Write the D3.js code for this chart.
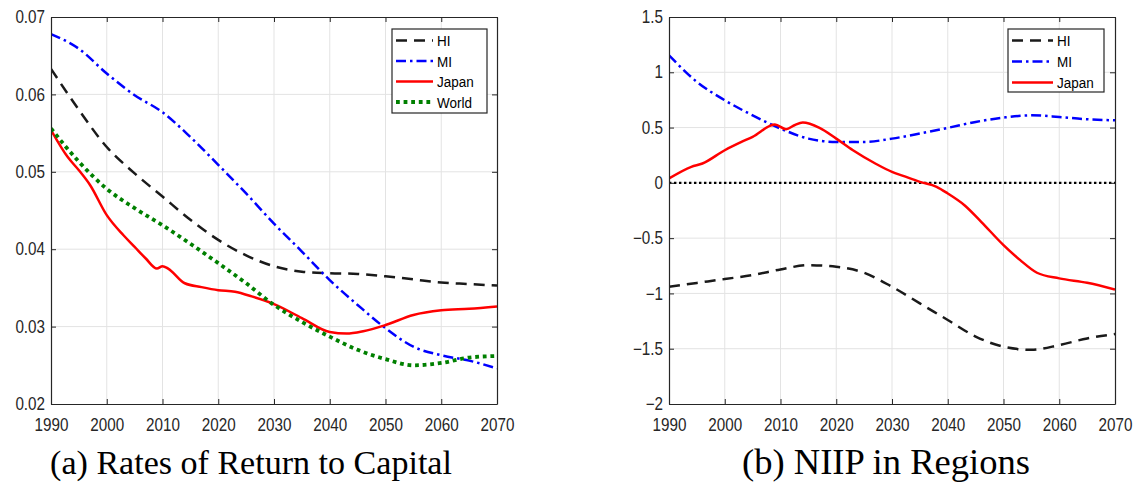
<!DOCTYPE html>
<html>
<head>
<meta charset="utf-8">
<script src="https://cdn.jsdelivr.net/npm/d3@7/dist/d3.min.js"></script>
<style>
  html, body { margin: 0; padding: 0; background: #fff; }
  svg { display: block; }
  .tick-label { font-family: 'Liberation Sans', Arial, sans-serif; font-size: 17.5px; fill: #262626; }
  .legend-label { font-family: 'Liberation Sans', Arial, sans-serif; font-size: 15.5px; fill: #000; }
  .caption { font-family: 'Liberation Serif', 'DejaVu Serif', serif; fill: #000; }
</style>
</head>
<body>
<svg id="chart" width="1143" height="483"></svg>
<script>
// ---- Shared time grid (every five years) ----
const yearGrid = [1990, 1995, 2000, 2005, 2010, 2015, 2020, 2025, 2030, 2035, 2040, 2045, 2050, 2055, 2060, 2065, 2070];
const xTickValues = [1990, 2000, 2010, 2020, 2030, 2040, 2050, 2060, 2070];

// ---- Panel (a): rates of return to capital ----
const rorHI = [0.0633, 0.0580, 0.0532, 0.0498, 0.0468, 0.0438, 0.0412, 0.0392, 0.0378, 0.0371, 0.0369, 0.0368, 0.0365, 0.0361, 0.0357, 0.0355, 0.0353];
const rorMI = [0.0678, 0.0659, 0.0627, 0.0599, 0.0577, 0.0545, 0.0509, 0.0472, 0.0433, 0.0397, 0.0360, 0.0328, 0.0298, 0.0274, 0.0263, 0.0256, 0.0246];
const rorWorld = [0.0556, 0.0513, 0.0478, 0.0453, 0.0431, 0.0407, 0.0382, 0.0356, 0.0328, 0.0306, 0.0287, 0.0270, 0.0258, 0.0250, 0.0253, 0.0260, 0.0262];
const rorJapanYears = [1990, 1993, 1995, 1997, 2000, 2003, 2005, 2007, 2009, 2010, 2011, 2014, 2017, 2020, 2023, 2026, 2030, 2035, 2040, 2043, 2046, 2050, 2055, 2060, 2065, 2070];
const rorJapan = [0.0554, 0.0519, 0.0502, 0.0483, 0.0444, 0.0418, 0.0403, 0.0388, 0.0375, 0.0378, 0.0375, 0.0356, 0.0351, 0.0347, 0.0345, 0.0339, 0.0329, 0.0311, 0.0293, 0.0291, 0.0294, 0.0302, 0.0315, 0.0321, 0.0323, 0.0326];
const rorYTicks = [0.02, 0.03, 0.04, 0.05, 0.06, 0.07];
const rorYTickLabels = ["0.02", "0.03", "0.04", "0.05", "0.06", "0.07"];

// ---- Panel (b): net international investment position ----
const niipHI = [-0.94, -0.905, -0.870, -0.834, -0.783, -0.744, -0.759, -0.813, -0.94, -1.09, -1.24, -1.39, -1.482, -1.51, -1.467, -1.407, -1.367];
const niipMI = [1.154, 0.913, 0.747, 0.611, 0.491, 0.40, 0.370, 0.370, 0.40, 0.446, 0.497, 0.551, 0.590, 0.611, 0.596, 0.575, 0.566];
const niipJapanYears = [1990, 1994, 1996, 2000, 2003, 2005, 2009, 2011, 2012.5, 2014, 2017, 2020, 2023, 2027, 2030, 2032, 2035, 2038, 2040, 2043, 2046, 2050, 2053, 2056, 2060, 2065, 2070];
const niipJapan = [0.039, 0.145, 0.175, 0.295, 0.370, 0.416, 0.527, 0.485, 0.521, 0.545, 0.497, 0.40, 0.295, 0.175, 0.099, 0.063, 0.009, -0.036, -0.096, -0.202, -0.352, -0.563, -0.699, -0.813, -0.864, -0.904, -0.964];
const niipYTicks = [-2, -1.5, -1, -0.5, 0, 0.5, 1, 1.5];
const niipYTickLabels = ["\u22122", "\u22121.5", "\u22121", "\u22120.5", "0", "0.5", "1", "1.5"];

const seriesNames = ["HI", "MI", "Japan", "World"];
const captions = ["(a) Rates of Return to Capital", "(b) NIIP in Regions"];

// ---- Line styles ----
const styles = {
  HI:    { color: "#1a1a1a", width: 2.5, dash: "11,7" },
  MI:    { color: "#0000ff", width: 2.5, dash: "10,4,2.5,4" },
  Japan: { color: "#ff0000", width: 2.5, dash: null },
  World: { color: "#008000", width: 3.8, dash: "3.8,3.8" }
};

// narrow glyph look for axis and legend text
const textSqueeze = 0.87;

const svg = d3.select("#chart");
const zip = (xs, ys) => xs.map((x, i) => ({ x, y: ys[i] }));

function drawPanel(opts) {
  const { id, left, right, top, bottom, yDomain, yTicks, yTickLabels, series, legend, zeroLine } = opts;
  const x = d3.scaleLinear().domain([1990, 2070]).range([left, right]);
  const y = d3.scaleLinear().domain(yDomain).range([bottom, top]);
  const g = svg.append("g");

  // clip region for the data lines
  svg.append("clipPath").attr("id", "clip-" + id)
    .append("rect").attr("x", left).attr("y", top).attr("width", right - left).attr("height", bottom - top);

  // grid
  const grid = g.append("g").attr("stroke", "#e3e3e3").attr("stroke-width", 1);
  xTickValues.slice(1, -1).forEach(v => {
    grid.append("line").attr("x1", x(v)).attr("x2", x(v)).attr("y1", top).attr("y2", bottom);
  });
  yTicks.slice(1, -1).forEach(v => {
    grid.append("line").attr("x1", left).attr("x2", right).attr("y1", y(v)).attr("y2", y(v));
  });

  // zero reference line
  if (zeroLine) {
    g.append("line")
      .attr("x1", left).attr("x2", right).attr("y1", y(0)).attr("y2", y(0))
      .attr("stroke", "#000").attr("stroke-width", 2.4).attr("stroke-dasharray", "2.4,2.6");
  }

  // data lines
  const line = d3.line().x(d => x(d.x)).y(d => y(d.y)).curve(d3.curveMonotoneX);
  const lines = g.append("g").attr("clip-path", `url(#clip-${id})`);
  series.forEach(s => {
    const st = styles[s.name];
    lines.append("path")
      .datum(s.data)
      .attr("d", line)
      .attr("fill", "none")
      .attr("stroke", st.color)
      .attr("stroke-width", st.width)
      .attr("stroke-dasharray", st.dash)
      .attr("stroke-linejoin", "round");
  });

  // axes (box with inward ticks on all sides)
  const tickLen = 5;
  const axisColor = "#262626";
  const xb = d3.axisBottom(x).tickValues(xTickValues).tickFormat(d3.format("d")).tickSizeInner(-tickLen).tickSizeOuter(0).tickPadding(15);
  const xt = d3.axisTop(x).tickValues(xTickValues).tickFormat("").tickSizeInner(-tickLen).tickSizeOuter(0);
  const yl = d3.axisLeft(y).tickValues(yTicks).tickFormat((d, i) => yTickLabels[i]).tickSizeInner(-tickLen).tickSizeOuter(0).tickPadding(6);
  const yr = d3.axisRight(y).tickValues(yTicks).tickFormat("").tickSizeInner(-tickLen).tickSizeOuter(0);

  const axes = [
    g.append("g").attr("transform", `translate(0,${bottom})`).call(xb),
    g.append("g").attr("transform", `translate(0,${top})`).call(xt),
    g.append("g").attr("transform", `translate(${left},0)`).call(yl),
    g.append("g").attr("transform", `translate(${right},0)`).call(yr)
  ];
  axes.forEach(a => {
    a.selectAll("path.domain").attr("stroke", axisColor).attr("stroke-width", 1.2);
    a.selectAll(".tick line").attr("stroke", axisColor).attr("stroke-width", 1);
    a.selectAll(".tick text")
      .attr("class", "tick-label").attr("font-family", null).attr("font-size", null).attr("fill", null)
      .attr("x", function() { return (+this.getAttribute("x") || 0) / textSqueeze; })
      .attr("transform", `scale(${textSqueeze},1)`);
  });

  // legend
  const lg = g.append("g");
  lg.append("rect")
    .attr("x", legend.x).attr("y", legend.y).attr("width", legend.w).attr("height", legend.h)
    .attr("fill", "#fff").attr("stroke", axisColor).attr("stroke-width", 1.2);
  series.forEach((s, i) => {
    const st = styles[s.name];
    const ry = legend.y + 11.5 + i * legend.step;
    lg.append("line")
      .attr("x1", legend.x + 4).attr("x2", legend.x + legend.sample)
      .attr("y1", ry).attr("y2", ry)
      .attr("stroke", st.color).attr("stroke-width", st.width)
      .attr("stroke-dasharray", st.dash);
    lg.append("text")
      .attr("class", "legend-label")
      .attr("transform", `translate(${legend.x + legend.sample + 4},${ry}) scale(${textSqueeze},1)`)
      .attr("dy", "0.36em")
      .text(s.name);
  });

  return { x, y };
}

drawPanel({
  id: "a", left: 51, right: 497, top: 17, bottom: 404,
  yDomain: [0.02, 0.07], yTicks: rorYTicks, yTickLabels: rorYTickLabels,
  series: [
    { name: seriesNames[0], data: zip(yearGrid, rorHI) },
    { name: seriesNames[1], data: zip(yearGrid, rorMI) },
    { name: seriesNames[2], data: zip(rorJapanYears, rorJapan) },
    { name: seriesNames[3], data: zip(yearGrid, rorWorld) }
  ],
  legend: { x: 392, y: 29, w: 95, h: 84, step: 20.5, sample: 41 },
  zeroLine: false
});

drawPanel({
  id: "b", left: 669, right: 1115, top: 17, bottom: 404,
  yDomain: [-2, 1.5], yTicks: niipYTicks, yTickLabels: niipYTickLabels,
  series: [
    { name: seriesNames[0], data: zip(yearGrid, niipHI) },
    { name: seriesNames[1], data: zip(yearGrid, niipMI) },
    { name: seriesNames[2], data: zip(niipJapanYears, niipJapan) }
  ],
  legend: { x: 1008, y: 29, w: 96, h: 63, step: 21, sample: 45 },
  zeroLine: true
});

// captions, sized to their panel width
const captionSpecs = [
  { text: captions[0], cx: 251, width: 402 },
  { text: captions[1], cx: 886, width: 288 }
];
captionSpecs.forEach(c => {
  const t = svg.append("text")
    .attr("class", "caption")
    .attr("x", c.cx).attr("y", 474)
    .attr("text-anchor", "middle")
    .attr("font-size", 28)
    .text(c.text);
  const w = t.node().getComputedTextLength();
  t.attr("font-size", (28 * c.width / w).toFixed(2));
});
</script>
</body>
</html>
